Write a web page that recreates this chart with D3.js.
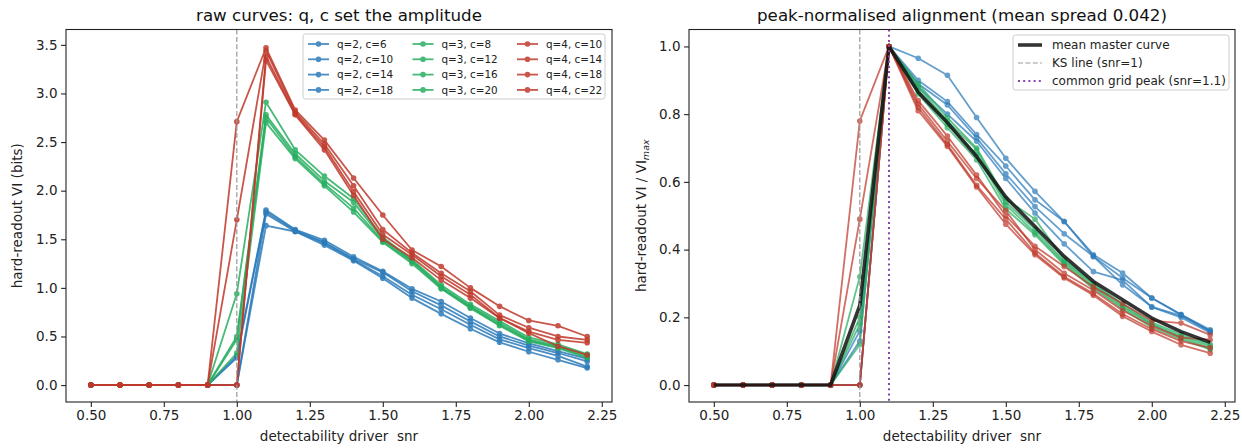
<!DOCTYPE html>
<html>
<head>
<meta charset="utf-8">
<script src="https://cdn.jsdelivr.net/npm/d3@7"></script>
<style>
body { margin: 0; background: #fff; }
text { font-family: "DejaVu Sans", sans-serif; }
</style>
</head>
<body>
<div id="chart"></div>
<script>
// detectability driver
var snr = [0.5,0.6,0.7,0.8,0.9,1.0,1.1,1.2,1.3,1.4,1.5,1.6,1.7,1.8,1.9,2.0,2.1,2.2];

var xTicks = [0.5,0.75,1.0,1.25,1.5,1.75,2.0,2.25];
var rawTicks = [0,0.5,1.0,1.5,2.0,2.5,3.0,3.5];
var normTicks = [0,0.2,0.4,0.6,0.8,1.0];

var labels = ["q=2, c=6","q=2, c=10","q=2, c=14","q=2, c=18",
              "q=3, c=8","q=3, c=12","q=3, c=16","q=3, c=20",
              "q=4, c=10","q=4, c=14","q=4, c=18","q=4, c=22"];
var groups = [2,2,2,2,3,3,3,3,4,4,4,4];

// raw VI (bits)
var raw_q2c6  = [0,0,0,0,0,0.30,1.80,1.60,1.49,1.32,1.17,0.99,0.86,0.69,0.53,0.43,0.35,0.27];
var raw_q2c10 = [0,0,0,0,0,0.28,1.78,1.59,1.47,1.30,1.16,0.965,0.82,0.655,0.50,0.405,0.33,0.243];
var raw_q2c14 = [0,0,0,0,0,0,1.76,1.58,1.46,1.29,1.12,0.93,0.78,0.62,0.47,0.38,0.30,0.19];
var raw_q2c18 = [0,0,0,0,0,0,1.64,1.58,1.44,1.28,1.10,0.895,0.733,0.58,0.44,0.343,0.26,0.175];
var raw_q3c8  = [0,0,0,0,0,0.94,2.91,2.42,2.15,1.92,1.52,1.29,1.03,0.83,0.66,0.49,0.42,0.32];
var raw_q3c12 = [0,0,0,0,0,0.50,2.78,2.38,2.10,1.88,1.50,1.28,1.01,0.81,0.64,0.47,0.40,0.31];
var raw_q3c16 = [0,0,0,0,0,0.47,2.75,2.35,2.07,1.82,1.48,1.27,1.00,0.80,0.62,0.46,0.39,0.29];
var raw_q3c20 = [0,0,0,0,0,0.33,2.70,2.33,2.05,1.78,1.47,1.25,0.99,0.79,0.61,0.45,0.38,0.28];
var raw_q4c10 = [0,0,0,0,0,2.71,3.47,2.83,2.52,2.13,1.75,1.39,1.22,1.00,0.81,0.665,0.61,0.50];
var raw_q4c14 = [0,0,0,0,0,1.70,3.44,2.81,2.48,2.05,1.60,1.36,1.15,0.965,0.72,0.59,0.50,0.465];
var raw_q4c18 = [0,0,0,0,0,0,3.38,2.79,2.45,1.99,1.55,1.34,1.12,0.93,0.69,0.55,0.465,0.435];
var raw_q4c22 = [0,0,0,0,0,0,3.34,2.78,2.42,1.95,1.50,1.31,1.08,0.895,0.69,0.535,0.40,0.31];

// peak-normalised VI / VI_max
var norm_q2c6  = [0,0,0,0,0,0.16,1,0.965,0.915,0.79,0.67,0.572,0.483,0.385,0.331,0.257,0.208,0.163];
var norm_q2c10 = [0,0,0,0,0,0.13,1,0.90,0.837,0.74,0.647,0.547,0.483,0.38,0.316,0.257,0.208,0.158];
var norm_q2c14 = [0,0,0,0,0,0,1,0.89,0.827,0.73,0.624,0.527,0.447,0.38,0.296,0.231,0.205,0.16];
var norm_q2c18 = [0,0,0,0,0,0,1,0.88,0.80,0.72,0.61,0.508,0.417,0.335,0.31,0.23,0.20,0.155];
var norm_q3c8  = [0,0,0,0,0,0.32,1,0.89,0.79,0.70,0.55,0.49,0.37,0.30,0.24,0.185,0.15,0.12];
var norm_q3c12 = [0,0,0,0,0,0.20,1,0.88,0.78,0.695,0.54,0.46,0.365,0.296,0.235,0.18,0.145,0.115];
var norm_q3c16 = [0,0,0,0,0,0.18,1,0.87,0.77,0.68,0.532,0.45,0.36,0.29,0.23,0.178,0.14,0.109];
var norm_q3c20 = [0,0,0,0,0,0.12,1,0.86,0.76,0.665,0.52,0.444,0.355,0.285,0.225,0.17,0.135,0.105];
var norm_q4c10 = [0,0,0,0,0,0.78,1,0.84,0.735,0.62,0.50,0.41,0.35,0.29,0.24,0.19,0.183,0.148];
var norm_q4c14 = [0,0,0,0,0,0.49,1,0.83,0.72,0.61,0.515,0.40,0.33,0.28,0.22,0.175,0.14,0.134];
var norm_q4c18 = [0,0,0,0,0,0,1,0.82,0.71,0.59,0.49,0.39,0.32,0.27,0.21,0.165,0.13,0.11];
var norm_q4c22 = [0,0,0,0,0,0,1,0.81,0.705,0.585,0.475,0.385,0.316,0.265,0.203,0.158,0.119,0.094];

var masterCurve = [0,0,0,0,0,0.235,1,0.865,0.775,0.675,0.555,0.468,0.38,0.306,0.252,0.198,0.158,0.126];

var rawSeries = [raw_q2c6,raw_q2c10,raw_q2c14,raw_q2c18,raw_q3c8,raw_q3c12,raw_q3c16,raw_q3c20,raw_q4c10,raw_q4c14,raw_q4c18,raw_q4c22];
var normSeries = [norm_q2c6,norm_q2c10,norm_q2c14,norm_q2c18,norm_q3c8,norm_q3c12,norm_q3c16,norm_q3c20,norm_q4c10,norm_q4c14,norm_q4c18,norm_q4c22];

var color = d3.scaleOrdinal().domain([2,3,4]).range(["#2b7bba","#27ae60","#c0392b"]);

var width = 1242, height = 448;
var plotTop = 29.5, plotBottom = 402;

var svg = d3.select("#chart").append("svg")
	.attr("width", width)
	.attr("height", height);

function panel(left, right, yDom, yTicks, yFmt) {
	var x = d3.scaleLinear().domain([0.415, 2.285]).range([left, right]);
	var y = d3.scaleLinear().domain(yDom).range([plotBottom, plotTop]);
	var g = svg.append("g");

	var xa = g.append("g").attr("transform", "translate(0," + plotBottom + ")")
		.call(d3.axisBottom(x).tickValues(xTicks).tickFormat(d3.format(".2f")).tickSize(4.9).tickPadding(3.6));
	var ya = g.append("g").attr("transform", "translate(" + left + ",0)")
		.call(d3.axisLeft(y).tickValues(yTicks).tickFormat(d3.format(yFmt)).tickSize(4.9).tickPadding(3.6));
	[xa, ya].forEach(function(a) {
		a.select(".domain").remove();
		a.selectAll("line").attr("stroke", "#222").attr("stroke-width", 1.1);
		a.selectAll("text").attr("font-size", "13.5px").attr("fill", "#222")
			.attr("font-family", "DejaVu Sans, sans-serif");
	});

	var plot = g.append("g");
	g.append("rect").attr("x", left).attr("y", plotTop)
		.attr("width", right - left).attr("height", plotBottom - plotTop)
		.attr("fill", "none").attr("stroke", "#222").attr("stroke-width", 1.1);

	return {g: g, plot: plot, x: x, y: y, left: left, right: right};
}

function drawCurves(p, series, opacity) {
	var line = d3.line()
		.x(function(d, i) { return p.x(snr[i]); })
		.y(function(d) { return p.y(d); });
	series.forEach(function(s, k) {
		var c = color(groups[k]);
		var sg = p.plot.append("g").attr("opacity", opacity);
		sg.append("path").datum(s).attr("d", line)
			.attr("fill", "none").attr("stroke", c).attr("stroke-width", 1.8)
			.attr("stroke-linejoin", "round");
		sg.selectAll("circle").data(s).enter().append("circle")
			.attr("cx", function(d, i) { return p.x(snr[i]); })
			.attr("cy", function(d) { return p.y(d); })
			.attr("r", 2.8)
			.attr("fill", c);
	});
}

function vline(p, v, stroke, w, dash) {
	p.plot.append("line")
		.attr("x1", p.x(v)).attr("x2", p.x(v))
		.attr("y1", plotTop).attr("y2", plotBottom)
		.attr("stroke", stroke).attr("stroke-width", w)
		.attr("stroke-dasharray", dash);
}

function titles(p, title) {
	var cx = (p.left + p.right) / 2;
	p.g.append("text").attr("x", cx).attr("y", 21).attr("text-anchor", "middle")
		.attr("font-size", "16.7px").attr("fill", "#111").text(title);
	p.g.append("text").attr("x", cx).attr("y", 441).attr("text-anchor", "middle")
		.attr("font-size", "13.5px").attr("fill", "#222")
		.style("white-space", "pre").text("detectability driver  snr");
}

// left panel: raw curves
var pL = panel(66, 612, [-0.174, 3.658], rawTicks, ".1f");
drawCurves(pL, rawSeries, 0.85);
vline(pL, 1.0, "#999", 1.2, "5,2.4");
titles(pL, "raw curves: q, c set the amplitude");
pL.g.append("text").attr("transform", "translate(22," + ((plotTop + plotBottom) / 2) + ") rotate(-90)")
	.attr("text-anchor", "middle").attr("font-size", "13.5px").attr("fill", "#222")
	.text("hard-readout VI (bits)");

// right panel: peak-normalised
var pR = panel(689, 1235, [-0.05, 1.05], normTicks, ".1f");
drawCurves(pR, normSeries, 0.72);
var mline = d3.line()
	.x(function(d, i) { return pR.x(snr[i]); })
	.y(function(d) { return pR.y(d); });
pR.plot.append("path").datum(masterCurve).attr("d", mline)
	.attr("fill", "none").attr("stroke", "#111").attr("stroke-opacity", 0.85)
	.attr("stroke-width", 3.6).attr("stroke-linejoin", "round");
vline(pR, 1.0, "#999", 1.2, "5,2.4");
vline(pR, 1.1, "#8e44ad", 2.0, "2,3.2");
titles(pR, "peak-normalised alignment (mean spread 0.042)");
var yl = pR.g.append("text").attr("transform", "translate(646," + ((plotTop + plotBottom) / 2) + ") rotate(-90)")
	.attr("text-anchor", "middle").attr("font-size", "13.5px").attr("fill", "#222");
yl.append("tspan").text("hard-readout VI / VI");
yl.append("tspan").attr("font-size", "9.5px").attr("font-style", "italic").attr("dy", 3).text("max");

// left legend (3 columns)
var legL = svg.append("g");
legL.append("rect").attr("x", 303).attr("y", 34).attr("width", 302).attr("height", 65)
	.attr("rx", 2.5).attr("fill", "#fff").attr("fill-opacity", 0.8)
	.attr("stroke", "#ccc").attr("stroke-width", 1);
labels.forEach(function(lab, k) {
	var col = Math.floor(k / 4), row = k % 4;
	var lx = 308 + col * 104.5, ly = 44 + row * 15.3;
	var c = color(groups[k]);
	var e = legL.append("g").attr("opacity", 0.85);
	e.append("line").attr("x1", lx).attr("x2", lx + 21).attr("y1", ly).attr("y2", ly)
		.attr("stroke", c).attr("stroke-width", 1.8);
	e.append("circle").attr("cx", lx + 10.5).attr("cy", ly).attr("r", 2.8).attr("fill", c);
	legL.append("text").attr("x", lx + 29).attr("y", ly + 3.7)
		.attr("font-size", "10.4px").attr("fill", "#222").text(lab);
});

// right legend
var legR = svg.append("g");
legR.append("rect").attr("x", 1013).attr("y", 35).attr("width", 216).attr("height", 55)
	.attr("rx", 2.5).attr("fill", "#fff").attr("fill-opacity", 0.8)
	.attr("stroke", "#ccc").attr("stroke-width", 1);
var rItems = [
	{label: "mean master curve", stroke: "#111", w: 3.6, dash: null, op: 0.85},
	{label: "KS line (snr=1)", stroke: "#999", w: 1.2, dash: "5,2.4", op: 1},
	{label: "common grid peak (snr=1.1)", stroke: "#8e44ad", w: 2.0, dash: "2,3.2", op: 1}
];
rItems.forEach(function(it, k) {
	var ly = 45 + k * 18;
	legR.append("line").attr("x1", 1018).attr("x2", 1042).attr("y1", ly).attr("y2", ly)
		.attr("stroke", it.stroke).attr("stroke-width", it.w).attr("stroke-opacity", it.op)
		.attr("stroke-dasharray", it.dash);
	legR.append("text").attr("x", 1052).attr("y", ly + 4.3)
		.attr("font-size", "12px").attr("fill", "#222").text(it.label);
});
</script>
</body>
</html>
